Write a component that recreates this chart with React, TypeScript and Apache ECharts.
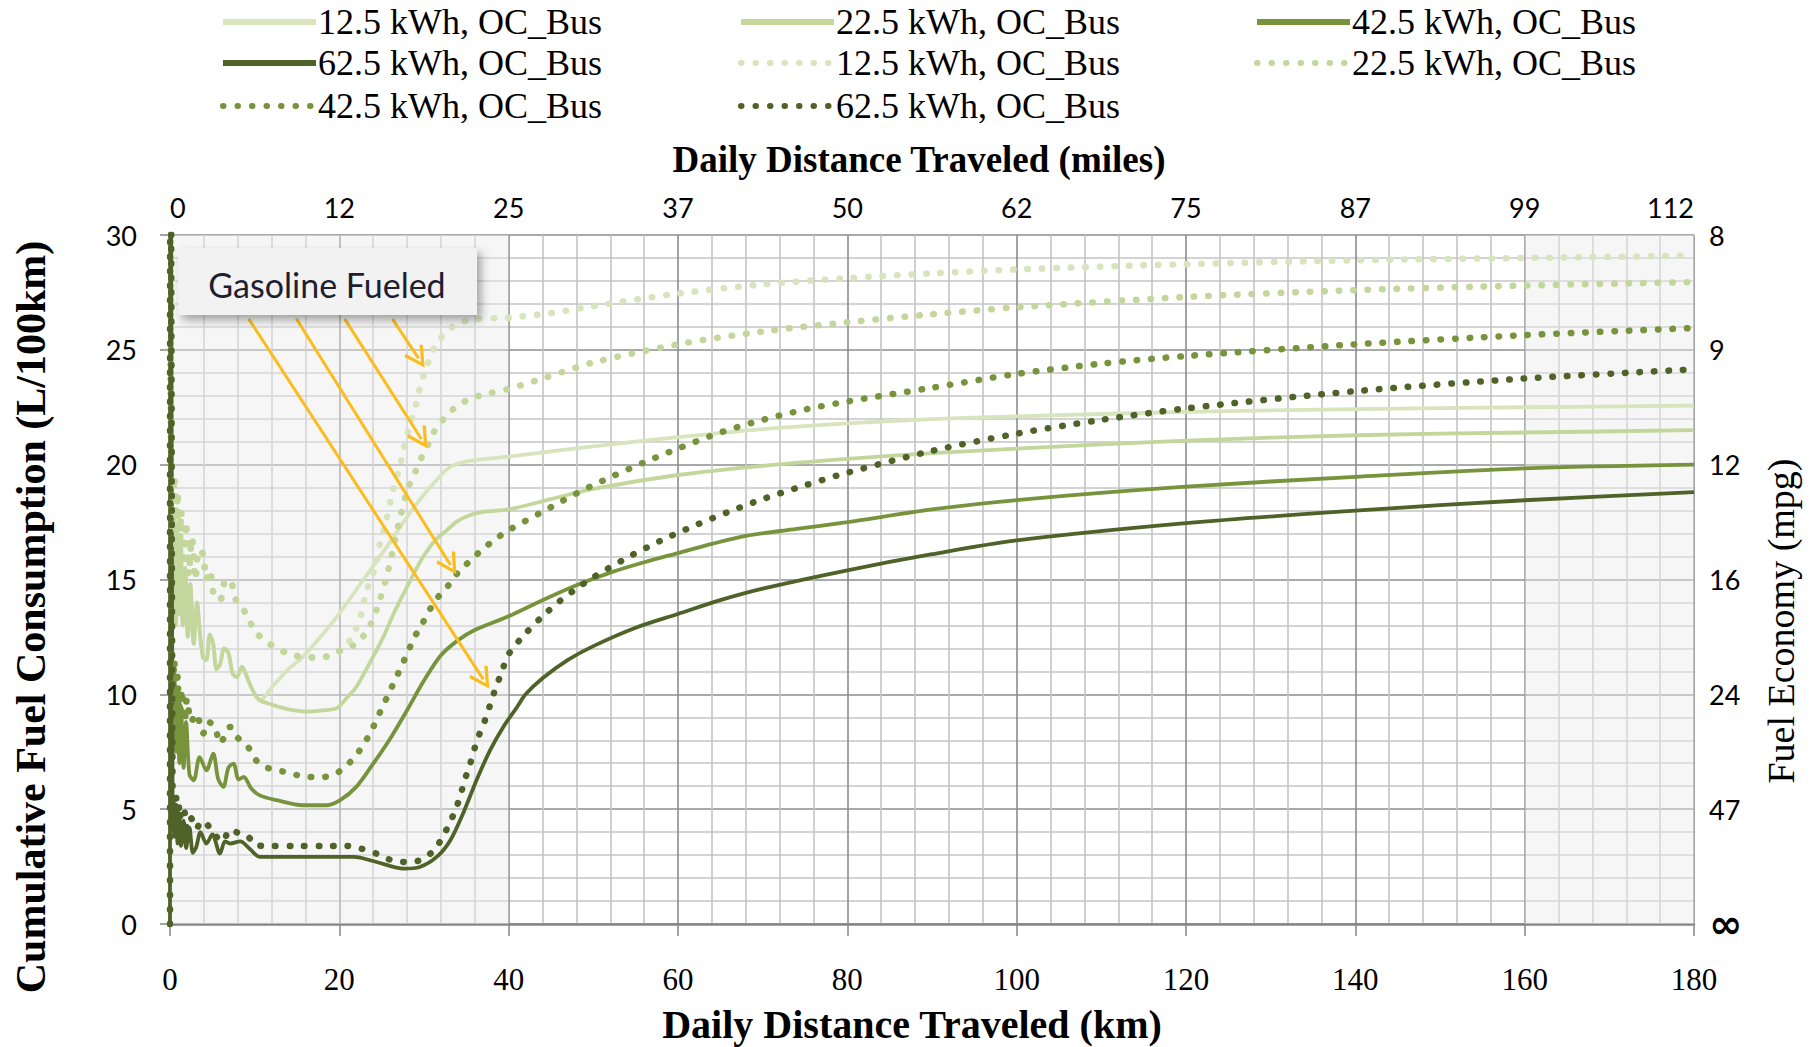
import React, { useEffect, useRef } from "react";
import * as echarts from "echarts";

// ---------- data (x = km, y = L/100km) ----------
const seriesLabels = ["12.5 kWh, OC_Bus", "22.5 kWh, OC_Bus", "42.5 kWh, OC_Bus", "62.5 kWh, OC_Bus"];
const milesLabels = ["0", "12", "25", "37", "50", "62", "75", "87", "99", "112"];
const mpgLabels = ["∞", "47", "24", "16", "12", "9", "8"];

const solid125: number[][] = [
  [0.1, 25], [0.3, 14], [0.5, 18], [0.7, 13], [0.9, 17], [1.1, 13.5], [1.3, 16.5], [1.5, 13], [1.8, 15.5],
  [2.1, 12.5], [2.4, 14.8], [2.8, 12.2], [3.2, 14], [3.5, 12.8], [3.9, 11.6], [4.3, 11.5], [4.7, 12.6],
  [5.1, 12.2], [5.5, 11.1], [5.9, 11.3], [6.4, 12.0], [6.9, 11.8], [7.4, 10.9], [7.9, 10.75], [8.5, 11.2],
  [9.1, 10.75], [9.6, 10.3], [10.2, 9.9], [10.6, 9.74], [12, 10.3], [14, 11.1], [15.7, 11.63], [18, 12.6],
  [19.7, 13.37], [22.8, 14.97], [25.6, 16.42], [28.3, 17.88], [30, 18.7], [31.5, 19.33], [32.7, 19.8],
  [34, 20.05], [36, 20.2], [40, 20.35], [50, 20.8], [60, 21.2], [70, 21.55], [80, 21.8], [90, 21.98],
  [100, 22.1], [120, 22.3], [140, 22.42], [160, 22.5], [180, 22.57],
];
const solid225: number[][] = [
  [0.1, 25], [0.3, 14], [0.5, 18], [0.7, 13], [0.9, 17], [1.1, 13.5], [1.3, 16.5], [1.5, 13], [1.8, 15.5],
  [2.1, 12.5], [2.4, 14.8], [2.8, 12.2], [3.2, 14], [3.5, 12.8], [3.9, 11.6], [4.3, 11.5], [4.7, 12.6],
  [5.1, 12.2], [5.5, 11.1], [5.9, 11.3], [6.4, 12.0], [6.9, 11.8], [7.4, 10.9], [7.9, 10.75], [8.5, 11.2],
  [9.1, 10.75], [9.6, 10.3], [10.2, 9.9], [10.6, 9.74], [12, 9.55], [14, 9.35], [16.5, 9.25], [18, 9.3],
  [19.7, 9.4], [21, 9.9], [22, 10.32], [23.5, 11.3], [25.2, 12.5], [26.4, 13.5], [27.6, 14.39], [29, 15.4],
  [29.9, 15.99], [31.3, 16.7], [32.7, 17.15], [34, 17.55], [35.4, 17.8], [37, 17.95], [40, 18.05],
  [45, 18.5], [50, 18.95], [60, 19.55], [70, 19.95], [80, 20.25], [90, 20.5], [100, 20.7], [120, 21.05],
  [140, 21.28], [160, 21.4], [180, 21.5],
];
const solid425: number[][] = [
  [0.1, 25], [0.3, 8], [0.5, 11], [0.7, 7.5], [0.9, 10], [1.1, 7], [1.3, 9.5], [1.6, 6.8], [1.9, 8.8],
  [2.3, 6.5], [2.8, 6.26], [3.5, 7.27], [4.3, 6.69], [5.1, 7.42], [5.7, 6.3], [6.3, 5.97], [6.9, 6.8],
  [7.5, 6.98], [8.1, 6.3], [8.7, 6.4], [9.6, 5.9], [10.6, 5.6], [12.6, 5.39], [15.7, 5.17], [18.5, 5.17],
  [20.1, 5.39], [22, 5.97], [24, 6.98], [26, 8.07], [28, 9.31], [30, 10.6], [32, 11.7], [34, 12.35],
  [36, 12.8], [40, 13.4], [44, 14.1], [48, 14.75], [52, 15.3], [56, 15.75], [60, 16.15], [64, 16.55],
  [68, 16.9], [74, 17.2], [80, 17.5], [90, 18.05], [100, 18.46], [120, 19.04], [140, 19.47], [160, 19.84], [180, 20.0],
];
const solid625: number[][] = [
  [0, 0], [0.05, 45], [0.3, 5.5], [0.5, 3.8], [0.7, 5.2], [0.9, 3.5], [1.1, 4.8], [1.3, 3.4], [1.6, 4.5],
  [1.9, 3.3], [2.3, 4.2], [2.7, 3.1], [3.1, 3.35], [3.6, 4.0], [4.3, 3.5], [5, 3.9], [5.9, 3.06],
  [6.5, 3.6], [7.1, 3.5], [8.3, 3.6], [9.4, 3.28], [10.6, 2.92], [15, 2.92], [21.7, 2.92], [24.4, 2.7],
  [27.6, 2.41], [29.5, 2.48], [31.5, 2.92], [33.1, 3.64], [34.6, 4.8], [36.2, 6.26], [37.8, 7.56],
  [39.4, 8.6], [41, 9.45], [42, 10.0], [44, 10.7], [47, 11.5], [50, 12.1], [55, 12.9], [60, 13.5],
  [65, 14.1], [70, 14.6], [80, 15.4], [90, 16.1], [100, 16.7], [120, 17.45], [140, 18.0], [160, 18.45], [180, 18.8],
];
const dotted125: number[][] = [
  [0.1, 25], [0.3, 17], [0.5, 19.5], [0.7, 16], [0.9, 18.8], [1.1, 15.5], [1.3, 18], [1.6, 15], [1.9, 17.5],
  [2.2, 15.2], [2.6, 16.8], [3.0, 15.0], [3.4, 16.3], [3.9, 16.1], [4.3, 15.0], [4.7, 15.4], [5.2, 14.3],
  [5.9, 14.1], [6.6, 15.0], [7.3, 14.8], [7.9, 14.0], [8.5, 13.8], [9.1, 13.4], [9.8, 12.9], [10.4, 12.6],
  [11.3, 12.3], [12.2, 12.1], [13.9, 11.78], [15.6, 11.63], [17.4, 11.6], [19.1, 11.7], [20.5, 11.99],
  [21.7, 12.65], [22.5, 13.37], [23.2, 14.5], [24.3, 15.6], [24.8, 16.57], [25.5, 17.5], [26.2, 18.68],
  [27.2, 20.0], [27.6, 20.7], [28.4, 21.8], [29.1, 22.67], [29.5, 23.32], [30.1, 24.05], [30.7, 24.63],
  [31.5, 25.28], [32.7, 25.79], [34, 26.15], [36, 26.33], [40, 26.4], [45, 26.6], [50, 26.9], [60, 27.45],
  [70, 27.85], [80, 28.12], [90, 28.33], [100, 28.5], [120, 28.73], [140, 28.9], [160, 29.0], [180, 29.1],
];
const dotted225: number[][] = [
  [0.1, 25], [0.3, 17], [0.5, 19.5], [0.7, 16], [0.9, 18.8], [1.1, 15.5], [1.3, 18], [1.6, 15], [1.9, 17.5],
  [2.2, 15.2], [2.6, 16.8], [3.0, 15.0], [3.4, 16.3], [3.9, 16.1], [4.3, 15.0], [4.7, 15.4], [5.2, 14.3],
  [5.9, 14.1], [6.6, 15.0], [7.3, 14.8], [7.9, 14.0], [8.5, 13.8], [9.1, 13.4], [9.8, 12.9], [10.4, 12.6],
  [11.3, 12.3], [12.2, 12.1], [13.9, 11.78], [15.6, 11.63], [17.4, 11.6], [19.1, 11.7], [20.5, 11.99],
  [22, 12.2], [23.5, 12.9], [24.5, 13.8], [25.5, 15.0], [26.4, 16.4], [27.2, 17.73], [28.1, 18.97],
  [28.9, 19.62], [29.7, 20.3], [30.5, 20.88], [31.3, 21.5], [32.5, 22.05], [33.7, 22.5], [35.2, 22.82],
  [37, 23.05], [40, 23.3], [44, 23.75], [50, 24.45], [60, 25.24], [70, 25.8], [80, 26.2], [90, 26.55],
  [100, 26.85], [120, 27.3], [140, 27.6], [160, 27.8], [180, 27.95],
];
const dotted425: number[][] = [
  [0.1, 25], [0.3, 9.5], [0.5, 11.5], [0.7, 8.5], [0.9, 10.8], [1.1, 8.2], [1.4, 10.2], [1.7, 8.5],
  [2.0, 9.8], [2.5, 8.8], [3.1, 9.16], [3.9, 8.29], [4.5, 8.8], [5.3, 8.6], [5.9, 7.86], [6.5, 8.2],
  [7.1, 8.58], [7.9, 8.14], [9.1, 7.78], [10, 7.2], [11.2, 6.84], [12.8, 6.69], [14.6, 6.52], [16.3, 6.4],
  [18.1, 6.4], [19.9, 6.62], [21.3, 7.06], [22.4, 7.56], [23.4, 8.15], [24.2, 8.73], [25, 9.38], [25.8, 10.0],
  [26.6, 10.64], [27.4, 11.27], [28.1, 11.85], [28.9, 12.5], [29.8, 13.08], [30.7, 13.7], [31.7, 14.25],
  [32.9, 14.75], [34, 15.3], [35.4, 15.8], [36.8, 16.28], [38.2, 16.69], [40, 17.15], [44, 17.95],
  [48, 18.75], [52, 19.45], [56, 20.1], [60, 20.7], [65, 21.4], [70, 21.95], [75, 22.4], [80, 22.75],
  [90, 23.35], [100, 23.95], [110, 24.4], [120, 24.73], [140, 25.24], [160, 25.64], [180, 25.95],
];
const dotted625: number[][] = [
  [0, 0], [0.05, 45], [0.3, 6], [0.5, 4.3], [0.7, 5.6], [0.9, 4.0], [1.1, 5.2], [1.4, 3.9], [1.7, 4.9],
  [2.1, 3.8], [2.5, 4.6], [3.1, 4.15], [3.8, 4.5], [4.7, 4.2], [5.5, 3.8], [6.3, 3.6], [7, 4.1], [8.3, 3.93],
  [9.25, 3.79], [10.2, 3.42], [12, 3.4], [15, 3.4], [18, 3.4], [20.9, 3.4], [22.6, 3.28], [24.4, 3.06],
  [26, 2.8], [27.8, 2.7], [29.5, 2.77], [31.1, 3.18], [32.1, 3.72], [32.9, 4.3], [33.7, 4.95], [34.3, 5.6],
  [34.8, 6.26], [35.4, 6.91], [35.9, 7.56], [36.5, 8.22], [37.2, 8.87], [37.8, 9.53], [38.3, 10.1],
  [39.2, 11.0], [40, 11.75], [42, 12.65], [44, 13.4], [46, 14.05], [48, 14.6], [50, 15.1], [54, 15.95],
  [58, 16.7], [62, 17.35], [66, 17.95], [70, 18.5], [75, 19.1], [80, 19.65], [90, 20.6], [100, 21.35],
  [110, 21.95], [120, 22.45], [140, 23.2], [160, 23.75], [180, 24.15],
];

// annotation arrows: [startKm, startValue, endKm, endValue]
const arrowSegments: number[][] = [
  [9.3, 26.35, 37.0, 10.65],
  [14.93, 26.35, 33.13, 15.63],
  [20.63, 26.35, 29.69, 21.12],
  [26.27, 26.35, 29.36, 24.63],
];
// shaded distance bands (km)
const shadedBands: number[][] = [[0, 40], [160, 180]];

const SERIF = "Liberation Serif";
const SANS = "Lato";

export default function App() {
  const ref = useRef<HTMLDivElement>(null);
  useEffect(() => {
    if (!ref.current) return;
    const chart = echarts.init(ref.current, undefined, { renderer: "svg" });

    const mk = (name: string, data: number[][], color: string, dotted: boolean) => ({
      name,
      type: "line",
      data,
      symbol: "none",
      showSymbol: false,
      smooth: 0.3,
      clip: true,
      silent: true,
      z: 2,
      itemStyle: { color },
      lineStyle: dotted
        ? { color, width: 6.5, type: [0.5, 14], cap: "round" }
        : { color, width: 3.8 },
    });

    const defs = [
      { name: seriesLabels[0], data: solid125, color: "#d7e4bd", dotted: false },
      { name: seriesLabels[1], data: solid225, color: "#c3d69b", dotted: false },
      { name: seriesLabels[2], data: solid425, color: "#77933c", dotted: false },
      { name: seriesLabels[3], data: solid625, color: "#4f6228", dotted: false },
      { name: seriesLabels[0] + " ", data: dotted125, color: "#d7e4bd", dotted: true },
      { name: seriesLabels[1] + " ", data: dotted225, color: "#c3d69b", dotted: true },
      { name: seriesLabels[2] + " ", data: dotted425, color: "#77933c", dotted: true },
      { name: seriesLabels[3] + " ", data: dotted625, color: "#4f6228", dotted: true },
    ];

    const colX = [220, 738, 1254];
    const rowY = [23, 64, 107];
    const legends = defs.map((d, i) => ({
      data: [d.name],
      left: colX[i % 3],
      top: rowY[Math.floor(i / 3)] - 19,
      padding: 0,
      itemWidth: 93,
      itemHeight: 14,
      selectedMode: false,
      formatter: (n: string) => n.trim(),
      itemStyle: { opacity: 0 },
      lineStyle: { width: 6 },
      textStyle: { fontFamily: SERIF, fontSize: 36, color: "#000", padding: [0, 0, 0, -3] },
    }));

    const chevron = "path://M10,0 L20,16 L17.6,17.8 L10,5.2 L2.4,17.8 L0,16 Z";

    const option: any = {
      animation: false,
      backgroundColor: "#ffffff",
      legend: legends,
      grid: { left: 170, right: 123, top: 235, bottom: 123, outerBoundsMode: "none" },
      xAxis: [
        {
          type: "value",
          position: "bottom",
          min: 0,
          max: 180,
          interval: 20,
          axisLine: { show: true, onZero: false, lineStyle: { color: "#868686", width: 2.5 } },
          axisTick: { show: true, length: 12, lineStyle: { color: "#868686", width: 1.5 } },
          axisLabel: { margin: 40, fontFamily: SERIF, fontSize: 31, color: "#000" },
          splitLine: { show: true, lineStyle: { color: "#8c8c8c", width: 1.6 } },
          minorTick: { show: false, splitNumber: 5 },
          minorSplitLine: { show: true, lineStyle: { color: "#c4c4c4", width: 1.6 } },
        },
        {
          type: "value",
          position: "top",
          min: 0,
          max: 180,
          interval: 20,
          axisLine: { show: false },
          axisTick: { show: false },
          splitLine: { show: false },
          axisLabel: {
            margin: 14,
            fontFamily: SANS,
            fontSize: 27,
            color: "#000",
            alignMinLabel: "left",
            alignMaxLabel: "right",
            formatter: (v: number) => milesLabels[Math.round(v / 20)] ?? "",
          },
        },
      ],
      yAxis: [
        {
          type: "value",
          position: "left",
          min: 0,
          max: 30,
          interval: 5,
          axisLine: { show: true, lineStyle: { color: "#868686", width: 2 } },
          axisTick: { show: true, length: 10, lineStyle: { color: "#868686", width: 1.5 } },
          axisLabel: { margin: 33, fontFamily: SANS, fontSize: 27, color: "#000" },
          splitLine: { show: true, lineStyle: { color: "#8c8c8c", width: 1.6 } },
          minorTick: { show: false, splitNumber: 5 },
          minorSplitLine: { show: true, lineStyle: { color: "#c4c4c4", width: 1.6 } },
        },
        {
          type: "value",
          position: "right",
          min: 0,
          max: 30,
          interval: 5,
          axisLine: { show: false },
          axisTick: { show: false },
          splitLine: { show: false },
          axisLabel: {
            margin: 15,
            fontFamily: SANS,
            fontSize: 27,
            color: "#000",
            formatter: (v: number) => {
              const s = mpgLabels[Math.round(v / 5)] ?? "";
              return v === 0 ? "{inf|" + s + "}" : s;
            },
            rich: { inf: { fontFamily: "DejaVu Sans", fontSize: 40, fontWeight: "bold", color: "#000" } },
          },
        },
      ],
      series: [
        ...defs.map((d) => mk(d.name, d.data, d.color, d.dotted)),
        {
          name: "bands",
          type: "line",
          data: [],
          silent: true,
          z: 4,
          markArea: {
            silent: true,
            itemStyle: { color: "rgba(236,236,236,0.45)" },
            data: shadedBands.map((b) => [{ xAxis: b[0] }, { xAxis: b[1] }]),
          },
        },
        {
          name: "arrows",
          type: "line",
          data: [],
          silent: true,
          z: 6,
          markLine: {
            silent: true,
            animation: false,
            symbol: ["none", chevron],
            symbolSize: [22, 22],
            label: { show: false },
            lineStyle: { color: "#fbbc1c", width: 3, type: "solid" },
            data: arrowSegments.map((a) => [{ coord: [a[0], a[1]] }, { coord: [a[2], a[3]] }]),
          },
        },
      ],
      graphic: [
        {
          type: "rect",
          z: 100,
          shape: { x: 178, y: 248, width: 299, height: 67 },
          style: {
            fill: "#f2f2f2",
            shadowBlur: 10,
            shadowOffsetX: 4,
            shadowOffsetY: 5,
            shadowColor: "rgba(0,0,0,0.35)",
          },
        },
        {
          type: "text",
          z: 101,
          x: 327,
          y: 284,
          style: {
            text: "Gasoline Fueled",
            fontFamily: SANS,
            fontSize: 34,
            fill: "#1e1e30",
            textAlign: "center",
            textVerticalAlign: "middle",
            align: "center",
            verticalAlign: "middle",
          },
        },
        {
          type: "text",
          x: 919,
          y: 159,
          style: {
            text: "Daily Distance Traveled (miles)",
            fontFamily: SERIF,
            fontWeight: "bold",
            fontSize: 37,
            fill: "#000",
            textAlign: "center",
            textVerticalAlign: "middle",
            align: "center",
            verticalAlign: "middle",
          },
        },
        {
          type: "text",
          x: 912,
          y: 1024,
          style: {
            text: "Daily Distance Traveled (km)",
            fontFamily: SERIF,
            fontWeight: "bold",
            fontSize: 40,
            fill: "#000",
            textAlign: "center",
            textVerticalAlign: "middle",
            align: "center",
            verticalAlign: "middle",
          },
        },
        {
          type: "text",
          x: 31,
          y: 617,
          rotation: Math.PI / 2,
          style: {
            text: "Cumulative Fuel Consumption (L/100km)",
            fontFamily: SERIF,
            fontWeight: "bold",
            fontSize: 42,
            fill: "#000",
            textAlign: "center",
            textVerticalAlign: "middle",
            align: "center",
            verticalAlign: "middle",
          },
        },
        {
          type: "text",
          x: 1781,
          y: 621,
          rotation: Math.PI / 2,
          style: {
            text: "Fuel Economy (mpg)",
            fontFamily: SERIF,
            fontSize: 38,
            fill: "#000",
            textAlign: "center",
            textVerticalAlign: "middle",
            align: "center",
            verticalAlign: "middle",
          },
        },
      ],
    };

    chart.setOption(option);
    return () => chart.dispose();
  }, []);

  return <div ref={ref} style={{ width: 1817, height: 1047, position: "absolute", left: 0, top: 0 }} />;
}
